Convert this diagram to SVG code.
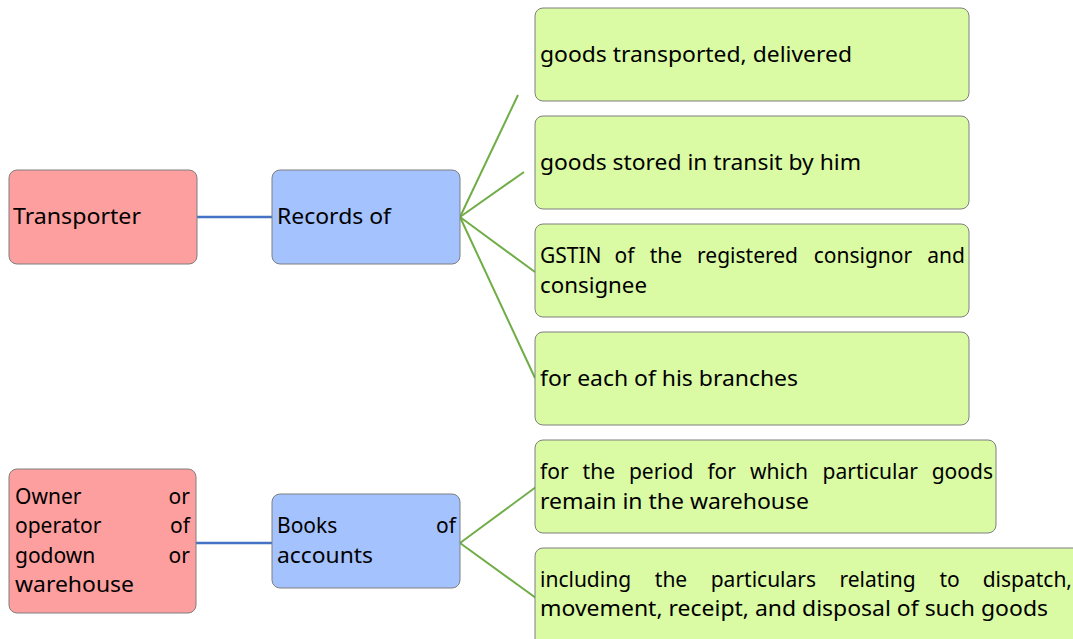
<svg xmlns="http://www.w3.org/2000/svg" width="1073" height="639" viewBox="0 0 1073 639">
<style>
.box{stroke:#7f7f7f;stroke-width:1}
.red{fill:#fe9f9f}
.blue{fill:#a4c2fe}
.green{fill:#dafba4}
text{font-family:"Noto Sans","Open Sans",sans-serif;font-size:21px;fill:#000}
.e{text-anchor:end}
.c1{stroke:#4472c4;stroke-width:2.5;fill:none}
.c2{stroke:#70ad47;stroke-width:2;fill:none}
</style>
<rect width="1073" height="639" fill="#fff"/>
<g id="connectors">
<line class="c1" x1="197" y1="217" x2="272" y2="217"/>
<line class="c2" x1="460" y1="217" x2="518" y2="95"/>
<line class="c2" x1="460" y1="217" x2="524" y2="172"/>
<line class="c2" x1="460" y1="217" x2="535" y2="272"/>
<line class="c2" x1="460" y1="217" x2="535" y2="378"/>
<line class="c1" x1="196" y1="543" x2="272" y2="543"/>
<line class="c2" x1="460" y1="543" x2="536" y2="487"/>
<line class="c2" x1="460" y1="543" x2="536" y2="598"/>
</g>
<g id="transporter">
<rect class="box red" x="9" y="170" width="188" height="94" rx="8"/>
<text x="13" y="224" textLength="128" lengthAdjust="spacingAndGlyphs">Transporter</text>
</g>
<g id="records">
<rect class="box blue" x="272" y="170" width="188" height="94" rx="8"/>
<text x="277" y="224" textLength="114" lengthAdjust="spacingAndGlyphs">Records of</text>
</g>
<g id="g1">
<rect class="box green" x="535" y="8" width="434" height="93" rx="8"/>
<text x="540" y="62" textLength="312" lengthAdjust="spacingAndGlyphs">goods transported, delivered</text>
</g>
<g id="g2">
<rect class="box green" x="535" y="116" width="434" height="93" rx="8"/>
<text x="540" y="170" textLength="321" lengthAdjust="spacingAndGlyphs">goods stored in transit by him</text>
</g>
<g id="g3">
<rect class="box green" x="535" y="224" width="434" height="93" rx="8"/>
<text x="540" y="263">GSTIN</text>
<text x="614.6" y="263">of</text>
<text x="649.7" y="263">the</text>
<text x="697.1" y="263">registered</text>
<text x="813.7" y="263">consignor</text>
<text class="e" x="965" y="263">and</text>
<text x="540" y="293" textLength="107" lengthAdjust="spacingAndGlyphs">consignee</text>
</g>
<g id="g4">
<rect class="box green" x="535" y="332" width="434" height="93" rx="8"/>
<text x="540" y="386" textLength="258" lengthAdjust="spacingAndGlyphs">for each of his branches</text>
</g>
<g id="owner">
<rect class="box red" x="9" y="469" width="187" height="144" rx="8"/>
<text x="15" y="504">Owner</text><text class="e" x="190" y="504">or</text>
<text x="15" y="533">operator</text><text class="e" x="190" y="533">of</text>
<text x="15" y="563">godown</text><text class="e" x="190" y="563">or</text>
<text x="15" y="592" textLength="119" lengthAdjust="spacingAndGlyphs">warehouse</text>
</g>
<g id="books">
<rect class="box blue" x="272" y="494" width="188" height="94" rx="8"/>
<text x="277" y="533">Books</text><text class="e" x="456" y="533">of</text>
<text x="277" y="563" textLength="96" lengthAdjust="spacingAndGlyphs">accounts</text>
</g>
<g id="g5">
<rect class="box green" x="535" y="440" width="461" height="93" rx="8"/>
<text x="540" y="479">for</text>
<text x="582.6" y="479">the</text>
<text x="628.9" y="479">period</text>
<text x="707.4" y="479">for</text>
<text x="750" y="479">which</text>
<text x="822.6" y="479">particular</text>
<text class="e" x="993" y="479">goods</text>
<text x="540" y="509" textLength="269" lengthAdjust="spacingAndGlyphs">remain in the warehouse</text>
</g>
<g id="g6">
<rect class="box green" x="535" y="548" width="550" height="100" rx="8"/>
<text x="540" y="587">including</text>
<text x="654.8" y="587">the</text>
<text x="710.7" y="587">particulars</text>
<text x="839.4" y="587">relating</text>
<text x="939.4" y="587">to</text>
<text class="e" x="1072" y="587">dispatch,</text>
<text x="540" y="616" textLength="508" lengthAdjust="spacingAndGlyphs">movement, receipt, and disposal of such goods</text>
</g>
</svg>
